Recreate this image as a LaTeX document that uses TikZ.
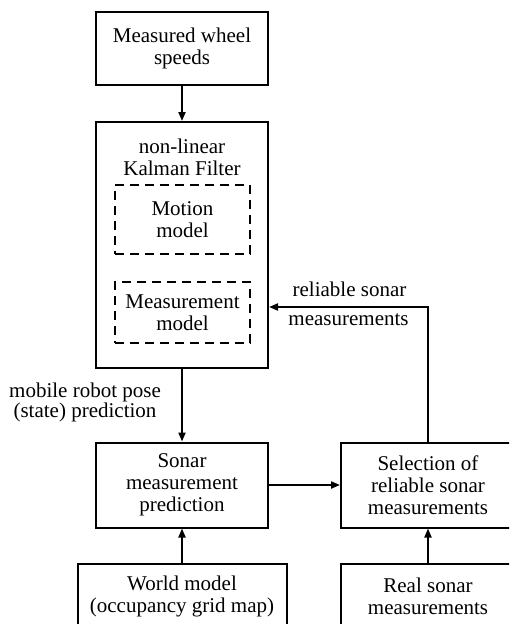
\documentclass[tikz,border=0pt]{standalone}
\usepackage{fontspec}
\setmainfont{Liberation Serif}
\usetikzlibrary{arrows.meta}
\begin{document}
\begin{tikzpicture}[x=1pt,y=-1pt,
  txt/.style={font=\fontsize{21}{22}\selectfont, align=center, inner sep=0pt},
  blk/.style={txt, draw, line width=2pt, minimum width=#1},
  dbox/.style={txt, draw, line width=1.4pt, dash pattern=on 9pt off 6pt, minimum width=135pt},
  arr/.style={line width=2pt, -{Triangle[length=9pt,width=7pt]}},
  ln/.style={line width=2pt}]
\useasboundingbox (0,0) rectangle (509,624);
\clip (0,0) rectangle (509,624);
\node[blk=172pt, minimum height=73pt] (wheel) at (182,48.5) {Measured wheel\\speeds};
\node[blk=172pt, minimum height=246pt] (kf) at (182,245) {};
\node[txt] (kft) at (182,157) {non-linear\\Kalman Filter};
\node[dbox, minimum height=69pt] (motion) at (182.5,219.5) {Motion\\model};
\node[dbox, minimum height=61pt] (meas) at (182.5,312.5) {Measurement\\model};
\node[blk=172pt, minimum height=85pt] (sonar) at (182,485) {Sonar\\measurement\\prediction};
\node[blk=174pt, minimum height=85pt] (sel) at (428,485) {Selection of\\reliable sonar\\measurements};
\node[blk=209pt, minimum height=64pt] (world) at (182,596) {World model\\(occupancy grid map)};
\node[blk=174pt, minimum height=64pt] (real) at (428,596) {Real sonar\\measurements};
\node[txt, font=\fontsize{21}{20}\selectfont] (pose) at (85,402) {mobile robot pose\\(state) prediction};
\node[txt] (rel1) at (349.5,289) {reliable sonar};
\node[txt] (rel2) at (348.5,320) {measurements};
\coordinate (fb) at (428,307);
\draw[arr] (wheel) -- (kf);
\draw[arr] (kf) -- (sonar);
\draw[arr] (sonar) -- (sel);
\draw[arr] (world) -- (sonar);
\draw[arr] (real) -- (sel);
\draw[arr] (sel.north) -- (fb) -- (kf.east |- fb);
\end{tikzpicture}
\end{document}
